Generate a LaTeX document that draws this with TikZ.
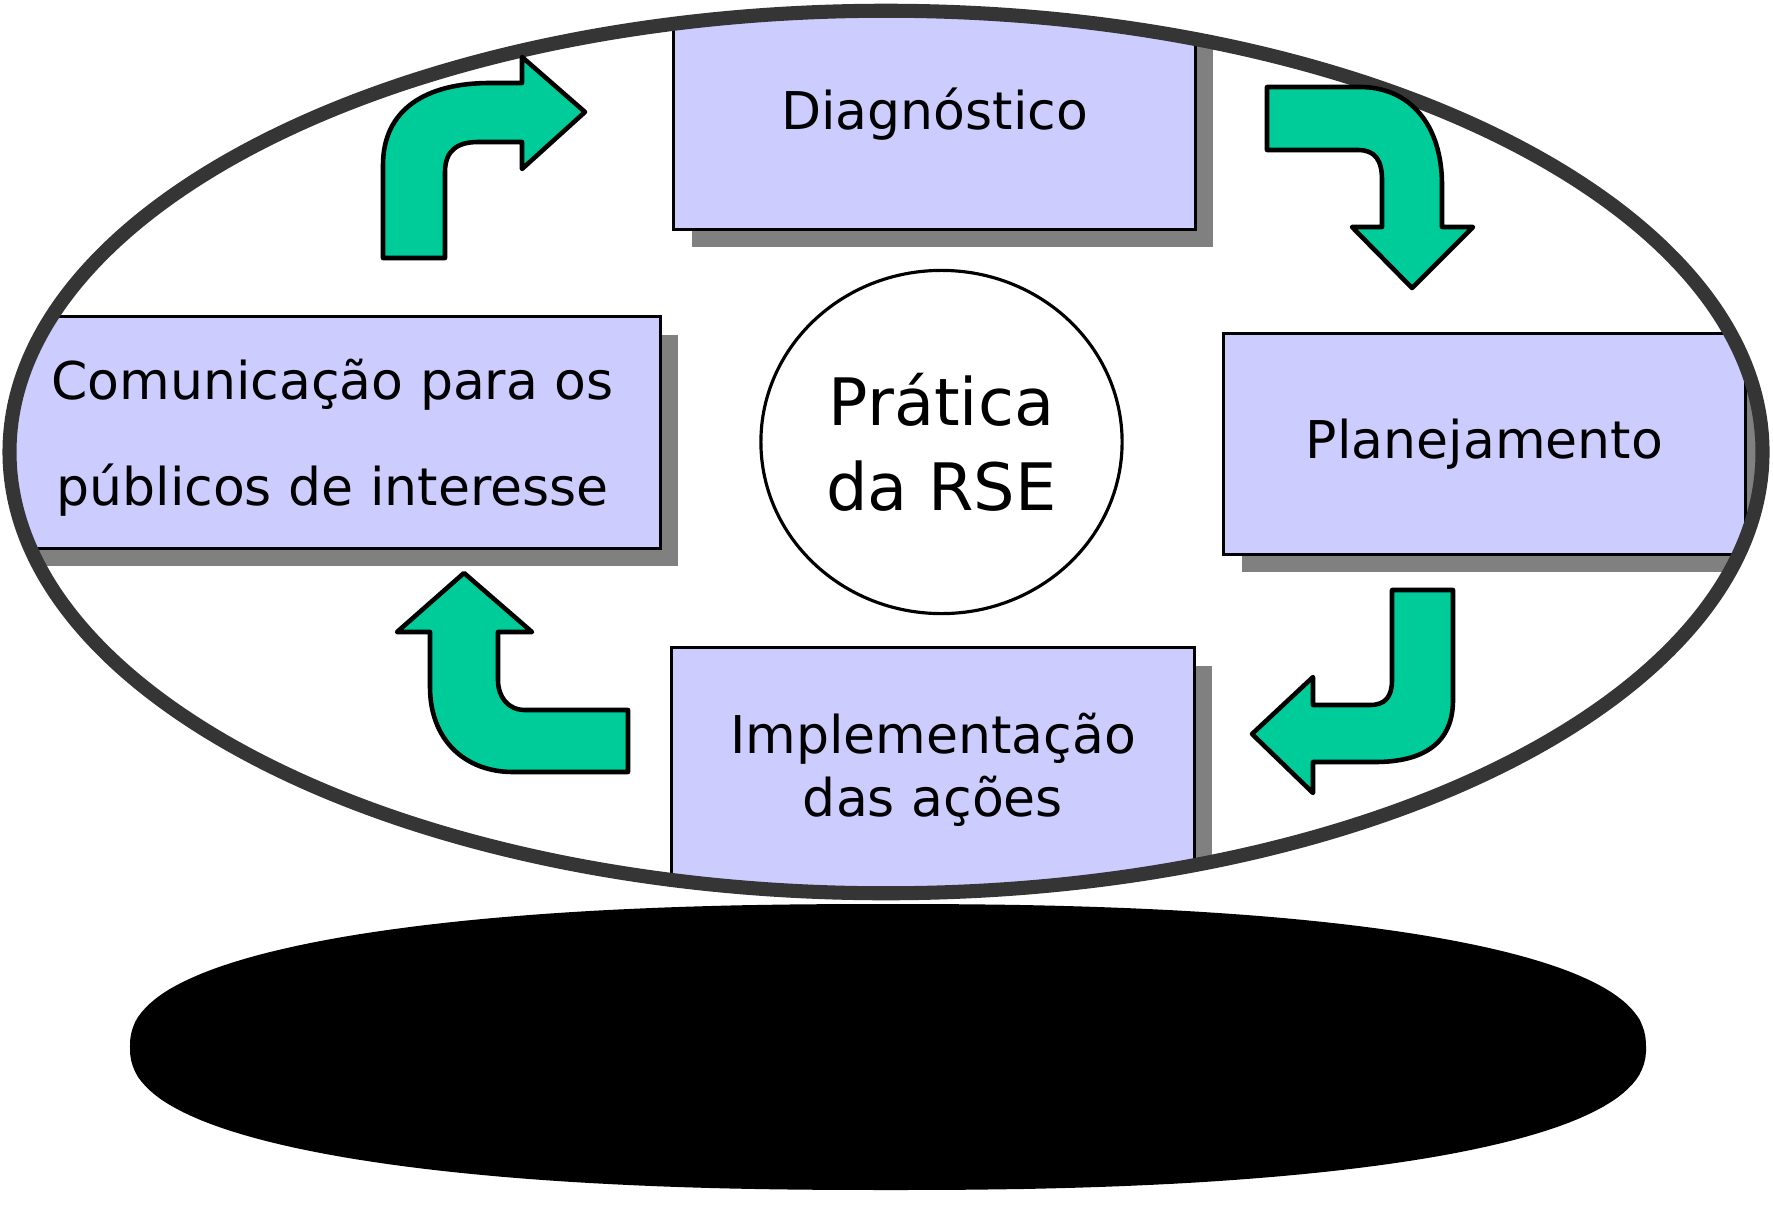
\documentclass[tikz,border=0pt]{standalone}
\usepackage{fontspec}
\setmainfont{DejaVu Sans}
\usetikzlibrary{shadows,shapes.geometric}
\definecolor{boxfill}{HTML}{CCCCFF}
\definecolor{arrowgreen}{HTML}{00CC99}
\definecolor{ringgray}{HTML}{353535}
\definecolor{shadowgray}{HTML}{808080}
\begin{document}
\begin{tikzpicture}[x=0.01cm,y=-0.01cm,
  stagebox/.style={draw=black, line width=0.85pt, fill=boxfill, inner sep=0pt, align=center,
    general shadow={fill=shadowgray, shadow xshift=0.18cm, shadow yshift=-0.18cm}},
  boxfont/.style={font=\fontsize{14.8}{18}\selectfont},
  turnarrow/.style={fill=arrowgreen, draw=black, line width=1.3pt, line join=round},
  ring/.style={draw=ringgray, line width=4pt}]
\useasboundingbox (0,0) rectangle (1773,1209);
% floor shadow
\fill[black] plot[domain=1:361, samples=200, variable=\t]
  ({888+758*sign(cos(\t))*abs(cos(\t))^0.85},{1047+143*sign(sin(\t))*abs(sin(\t))^0.85}) -- cycle;
% ellipse interior
\fill[white] (886,452) ellipse [x radius=8.76cm, y radius=4.41cm];
\begin{scope}
  \clip (886,452) ellipse [x radius=8.76cm, y radius=4.41cm];
  \node[stagebox, boxfont, minimum width=5.21cm, minimum height=2.30cm] (diag) at (934.5,114) {Diagnóstico};
  \node[stagebox, boxfont, minimum width=5.21cm, minimum height=2.20cm] (plan) at (1484.5,444) {Planejamento};
  \node[stagebox, font=\fontsize{14.8}{30}\selectfont, text depth=0pt, minimum width=6.55cm, minimum height=2.31cm] (comm) at (332.5,432.5) {Comunicação para os\\públicos de interesse};
  \node[stagebox, boxfont, minimum width=5.22cm, minimum height=2.44cm] (impl) at (933,770) {Implementação\\das ações};
\end{scope}
% ring
\draw[ring] (886,452) ellipse [x radius=8.76cm, y radius=4.41cm];
% centre
\node[draw=black, line width=0.9pt, fill=white, ellipse, minimum width=3.61cm, minimum height=3.43cm, inner sep=0pt, align=center,
  font=\fontsize{18.6}{24.2}\selectfont] (rse) at (941.5,442) {Prática\\da RSE};
% turning arrows
\draw[turnarrow] (383,258) -- (383,165) .. controls (383,110) and (425,83) .. (490,83) -- (522,83)
  -- (522,57) -- (585,112) -- (522,169) -- (522,142) -- (478,142)
  .. controls (458,142) and (445,150) .. (445,172) -- (445,258) -- cycle;
\draw[turnarrow] (1267,87) -- (1360,87) .. controls (1410,87) and (1442,125) .. (1442,185) -- (1442,227)
  -- (1473,227) -- (1412,288) -- (1352,227) -- (1382,227) -- (1382,180)
  .. controls (1382,160) and (1375,150) .. (1358,150) -- (1267,150) -- cycle;
\draw[turnarrow] (1392,590) -- (1453,590) -- (1453,700) .. controls (1453,742) and (1425,762) .. (1375,762)
  -- (1313,762) -- (1313,793) -- (1252,734) -- (1313,677) -- (1313,705) -- (1370,705)
  .. controls (1385,705) and (1392,697) .. (1392,680) -- cycle;
\draw[turnarrow] (628,710) -- (628,772) -- (513,772) .. controls (465,772) and (430,740) .. (430,687)
  -- (430,632) -- (397,632) -- (464,573) -- (532,632) -- (498,632) -- (498,680)
  .. controls (498,697) and (508,710) .. (525,710) -- cycle;
\end{tikzpicture}
\end{document}
